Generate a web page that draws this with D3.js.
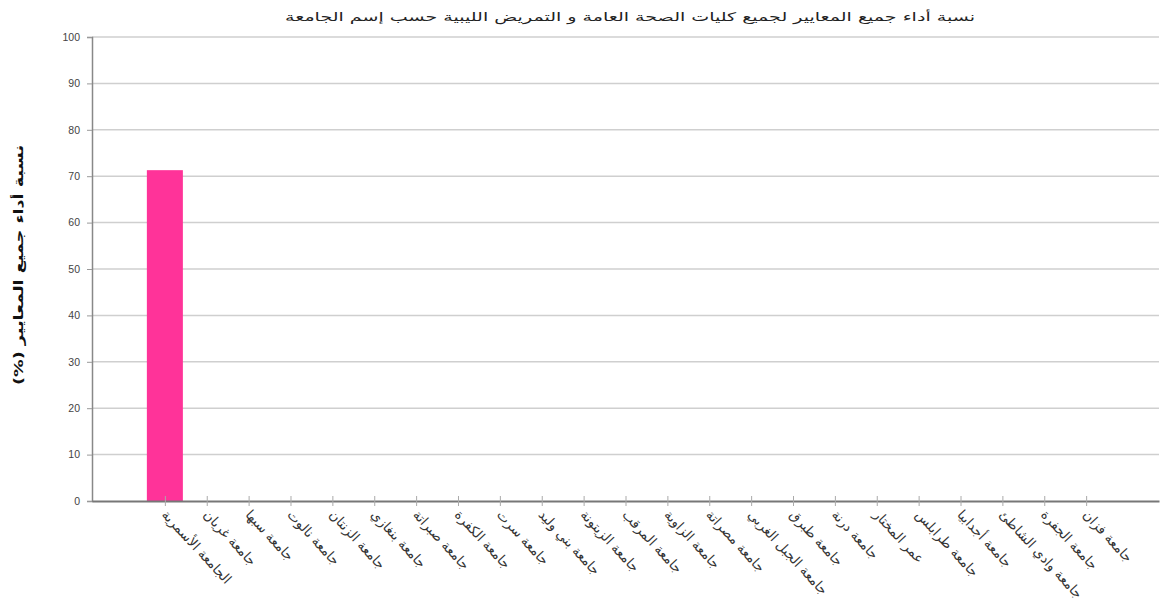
<!DOCTYPE html>
<html>
<head>
<meta charset="utf-8">
<script src="https://cdn.jsdelivr.net/npm/d3@7"></script>
<style>
  html, body { margin: 0; padding: 0; background: #ffffff; }
  svg { display: block; }
</style>
</head>
<body>
<svg id="chart" width="1164" height="612"></svg>
<script>
const chartTitle = "نسبة أداء جميع المعايير لجميع كليات الصحة العامة و التمريض الليبية حسب إسم الجامعة";
const yAxisTitle = "نسبة أداء جميع المعايير (%)";
const categories = [
  "الجامعة الأسمرية", "جامعة غريان", "جامعة سبها", "جامعة نالوت", "جامعة الزنتان",
  "جامعة بنغازي", "جامعة صبراتة", "جامعة الكفرة", "جامعة سرت", "جامعة بني وليد",
  "جامعة الزيتونة", "جامعة المرقب", "جامعة الزاوية", "جامعة مصراتة", "جامعة الجبل الغربي",
  "جامعة طبرق", "جامعة درنة", "عمر المختار", "جامعة طرابلس", "جامعة أجدابيا",
  "جامعة وادي الشاطئ", "جامعة الجفرة", "جامعة فزان"
];
const values = [71.3, 0, 0, 0, 0, 0, 0, 0, 0, 0, 0, 0, 0, 0, 0, 0, 0, 0, 0, 0, 0, 0, 0];
const yTicks = [0, 10, 20, 30, 40, 50, 60, 70, 80, 90, 100];

const W = 1164, H = 612;
const margin = {top: 37, right: 5, bottom: 111, left: 92};
const svg = d3.select("#chart");

const x = d3.scalePoint().domain(categories).range([margin.left, W - margin.right]).padding(1.74);
const y = d3.scaleLinear().domain([0, 100]).range([H - margin.bottom, margin.top]);
const barW = x.step() * 0.86;

// gridlines
svg.append("g")
  .selectAll("line").data(yTicks.filter(d => d > 0)).join("line")
  .attr("x1", margin.left).attr("x2", W - margin.right)
  .attr("y1", d => y(d)).attr("y2", d => y(d))
  .attr("stroke", "#cfcfcf").attr("stroke-width", 1.5);

// bars
svg.append("g")
  .selectAll("rect").data(categories.map((c, i) => ({c, v: values[i]}))).join("rect")
  .attr("x", d => x(d.c) - barW / 2)
  .attr("width", barW)
  .attr("y", d => y(d.v))
  .attr("height", d => y(0) - y(d.v))
  .attr("fill", "#ff3399");

// y axis
const yAxis = svg.append("g")
  .attr("transform", `translate(${margin.left},0)`)
  .call(d3.axisLeft(y).tickValues(yTicks).tickSize(5).tickPadding(7));
yAxis.select(".domain").attr("stroke", "#888").attr("stroke-width", 1.5);
yAxis.selectAll(".tick line").attr("stroke", "#999");
yAxis.selectAll(".tick text")
  .attr("font-family", "Liberation Sans, Arial, sans-serif")
  .attr("font-size", 10.5).attr("fill", "#444");

// x axis
const xAxis = svg.append("g")
  .attr("transform", `translate(0,${y(0)})`)
  .call(d3.axisBottom(x).tickSize(5).tickSizeOuter(0).tickPadding(8));
xAxis.select(".domain").attr("stroke", "#777").attr("stroke-width", 2);
xAxis.selectAll(".tick line").attr("stroke", "#aaa").attr("y1", -5).attr("y2", 5);
xAxis.selectAll(".tick text")
  .attr("font-family", "DejaVu Sans, sans-serif")
  .attr("font-size", 13.5).attr("fill", "#333")
  .attr("text-anchor", "start")
  .attr("dy", "0.25em")
  .attr("transform", "translate(-2,12) rotate(47)")
  .attr("x", 0).attr("y", 0);

// title
svg.append("text")
  .attr("x", 630).attr("y", 21)
  .attr("text-anchor", "middle")
  .attr("direction", "rtl")
  .attr("font-family", "DejaVu Sans, sans-serif")
  .attr("font-size", 12).attr("fill", "#222")
  .attr("textLength", 690).attr("lengthAdjust", "spacingAndGlyphs")
  .text(chartTitle);

// y axis title
svg.append("text")
  .attr("transform", `translate(23,${(margin.top + H - margin.bottom) / 2 - 4}) rotate(-90)`)
  .attr("text-anchor", "middle")
  .attr("direction", "rtl")
  .attr("font-family", "DejaVu Sans, sans-serif")
  .attr("font-size", 13).attr("font-weight", "bold").attr("fill", "#111")
  .attr("textLength", 240).attr("lengthAdjust", "spacingAndGlyphs")
  .text(yAxisTitle);
</script>
</body>
</html>
